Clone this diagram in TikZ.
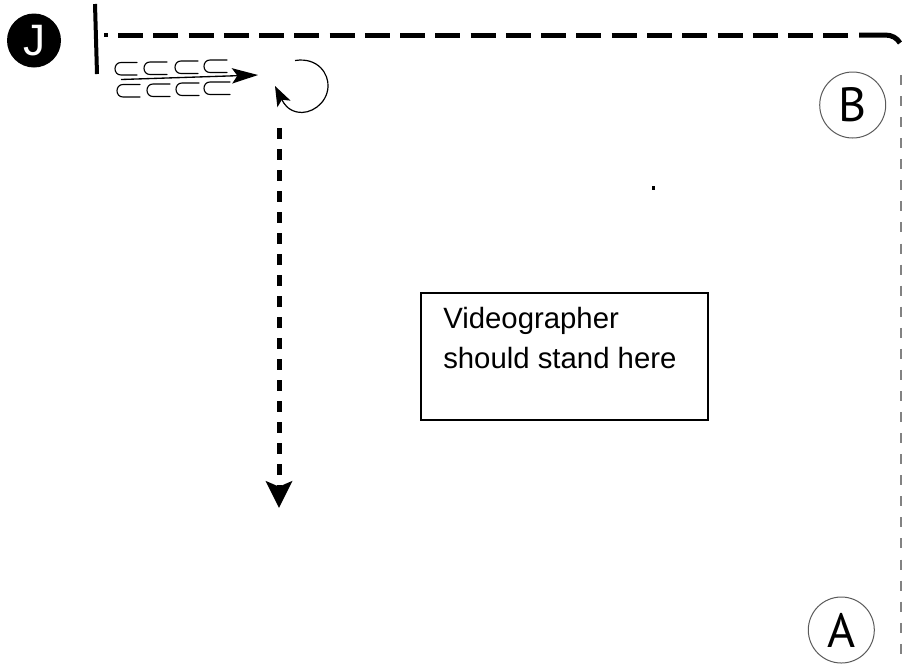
\documentclass[tikz,border=0pt]{standalone}
\usepackage{fontspec}
\setmainfont{Liberation Sans}
\newfontfamily\letterfont{PT Sans}
\usetikzlibrary{arrows.meta}
\usepackage{xcolor}

\tikzset{
    spot/.style={circle,draw={rgb,255:red,90;green,90;blue,90},line width=0.75pt,minimum size=49.5pt,inner sep=0pt,font=\letterfont\fontsize{36}{36}\selectfont},
    clip row/.style={line width=0.85pt,line cap=round},
    run tip/.style={-{Stealth[length=20pt,width=19.5pt,inset=4pt]}},
}
\newcommand{\clipmark}[3]{\draw [clip row] (#1+#3,#2) -- (#1+6,#2) .. controls (#1-2,#2) and (#1-2,#2+12.5) .. (#1+6,#2+12.5) -- (#1+#3,#2+12.5) ;}

\begin{document}
\begin{tikzpicture}[x=0.75pt,y=0.75pt,yscale=-1]
        \useasboundingbox (0,0) rectangle (902,669);

        %Shape: Circle, black badge
        \draw (34,40.5) node (badgeJ) [circle,fill=black,minimum size=40.5pt,inner sep=0pt,text=white,font=\fontsize{33}{33}\selectfont] {J};
        %Shape: Circle
        \draw (852.7,105) node (spotB) [spot] {B};
        %Shape: Circle
        \draw (841.3,630) node (spotA) [spot] {A};

        %Straight Lines, wall end
        \draw [line width=3pt]    (95,4) -- (97,74) ;
        %Shape: Rectangle, first dot of the wall
        \fill (104,33.2) rectangle (107.5,36.8);
        %Straight Lines, top wall
        \draw [line width=3.75pt,dash pattern=on 18.75pt off 7.7pt]    (118,35) -- (850,35) ;
        %Curve, last piece of the wall with its corner
        \draw [line width=3.75pt]    (859,35) -- (885,35) .. controls (892,35) and (897,38) .. (900,43) ;
        %Straight Lines, right wall
        \draw [color={rgb, 255:red, 130; green, 130; blue, 130 },line width=1.1pt,dash pattern=on 7.5pt off 8.3pt]    (901,75) -- (901,656) ;

        %Clips, top row then bottom row
        \clipmark{115}{62.5}{22}
        \clipmark{144}{62}{23}
        \clipmark{175}{61}{23}
        \clipmark{204}{60}{23}
        \clipmark{117}{84.5}{23}
        \clipmark{147}{84}{23}
        \clipmark{176}{83}{23}
        \clipmark{204}{82}{26}

        %Straight Lines, entry run
        \coordinate (runStart) at (121,79.5);
        \coordinate (runEnd) at (258,75);
        \draw [line width=1pt,-{Stealth[length=19.5pt,width=11.5pt,inset=4pt]}]    (runStart) -- (runEnd) ;

        %Curve, turn
        \coordinate (turnStart) at (295,60.5);
        \coordinate (turnEnd) at (275,86);
        \draw [line width=0.9pt,-{Stealth[length=15pt,width=11pt,inset=3.5pt]}]    (turnStart) .. controls (318,57) and (329,74) .. (328,87) .. controls (327,104) and (310,115) .. (297,112) .. controls (288,110) and (284,104) .. (turnEnd) ;

        %Straight Lines, long run
        \coordinate (downStart) at (279,128);
        \coordinate (downEnd) at (279,508);
        \draw [line width=3.75pt,dash pattern=on 8pt off 7.75pt,run tip]    (downStart) -- (downEnd) ;

        %Shape: Rectangle, small mark
        \fill (651.5,185.5) rectangle (654.5,189.5);

        %Shape: Rectangle
        \draw [line width=0.9pt] (421,293) rectangle (708,420);
        % Text Node
        \draw (442,306) node (note) [anchor=north west][inner sep=0.75pt,align=left,font=\fontsize{22}{30}\selectfont]    {Videographer\\should stand here};

\end{tikzpicture}
\end{document}
